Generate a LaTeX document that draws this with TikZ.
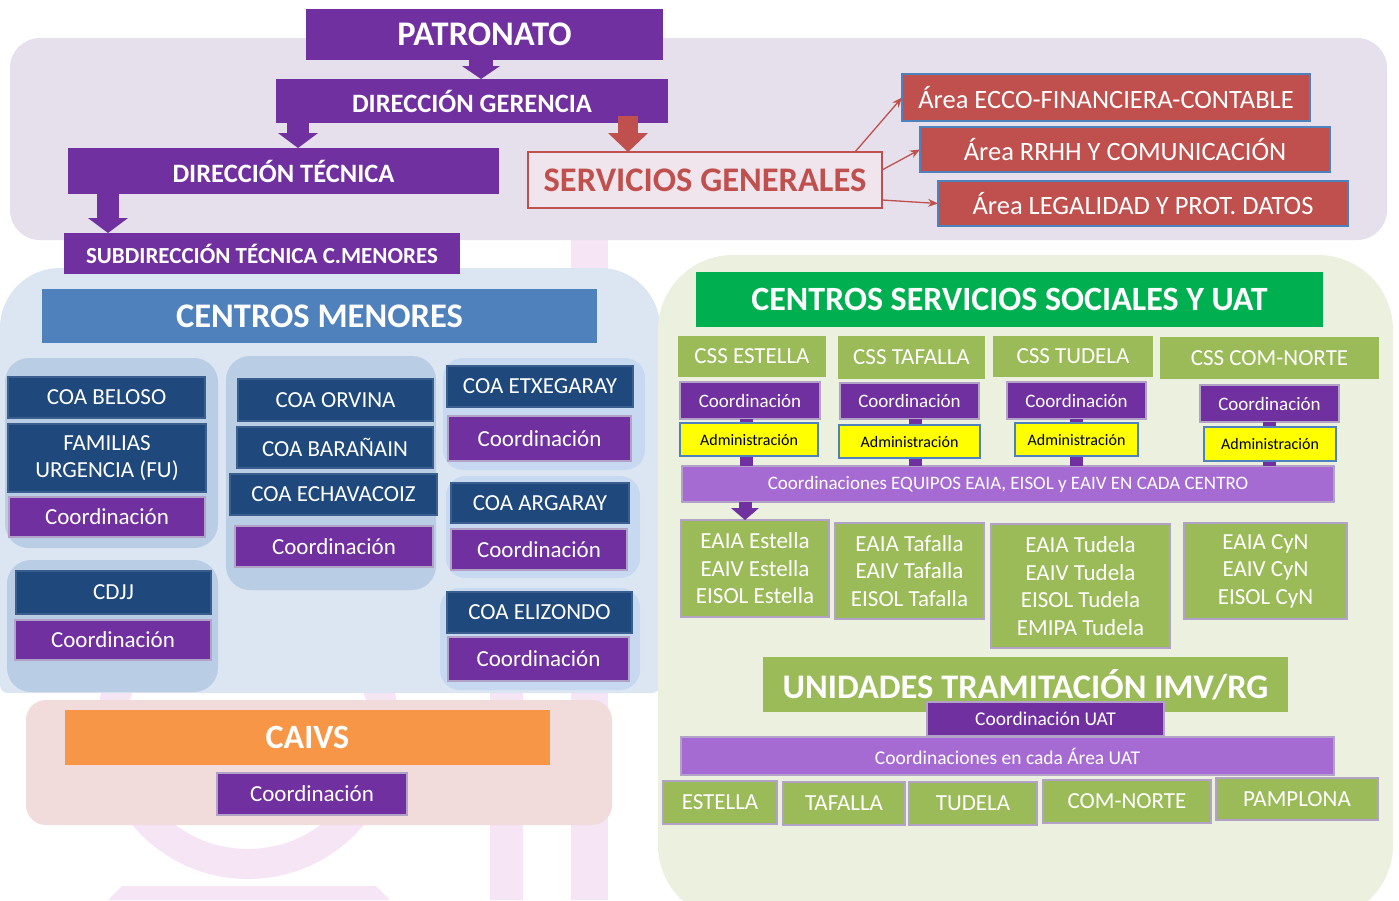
\documentclass[tikz,border=0pt]{standalone}
\usepackage{fontspec}
\setmainfont{Carlito}
\usetikzlibrary{arrows.meta}
\definecolor{cPurple}{HTML}{7030A0}
\definecolor{cLav}{HTML}{B3A2C7}
\definecolor{cTop}{HTML}{E5E0EC}
\definecolor{cRed}{HTML}{C0504D}
\definecolor{cSG}{HTML}{F0E5ED}
\definecolor{cAreaB}{HTML}{4F81BD}
\definecolor{cLBlue}{HTML}{DCE6F2}
\definecolor{cSub}{HTML}{B9CDE5}
\definecolor{cSubB}{HTML}{C6D9F1}
\definecolor{cMid}{HTML}{4F81BD}
\definecolor{cNavy}{HTML}{1F497D}
\definecolor{cNavyB}{HTML}{3A5F8F}
\definecolor{cPink}{HTML}{F2DCDB}
\definecolor{cOrange}{HTML}{F79646}
\definecolor{cLGreen}{HTML}{EBF1DE}
\definecolor{cGreen}{HTML}{00B050}
\definecolor{cOlive}{HTML}{9BBB59}
\definecolor{cLP}{HTML}{A66BD3}
\definecolor{cYellow}{HTML}{FFFF00}
\definecolor{cWM}{HTML}{F5E5F5}
\newcommand{\fsz}[2]{\fontsize{#1}{#2}\selectfont}
\newcommand{\bx}[7]{\node[#1,anchor=north west,minimum width={(#5-#3)*1pt},minimum height={(#6-#4)*1pt}] (#2) at (#3,#4) {#7};}
\tikzset{
 bx/.style={inner sep=0pt, outer sep=0pt, align=center, text=white, line width=1.2pt},
 tb/.style={bx, fill=cPurple, font=\bfseries\fsz{26.5}{30}},
 pu/.style={bx, fill=cPurple, draw=cLav, font=\fsz{23}{27}},
 nv/.style={bx, fill=cNavy, draw=cNavyB, font=\fsz{23}{27}},
 ar/.style={bx, fill=cRed, draw=cAreaB, font=\fsz{26.5}{30}},
 ol/.style={bx, fill=cOlive, font=\fsz{23}{27}},
 ola/.style={bx, fill=cOlive, draw=cLav, font=\fsz{23}{27.5}},
 ad/.style={bx, fill=cYellow, draw=cAreaB, text=black, font=\fsz{16}{19}},
 lp/.style={bx, fill=cLP, draw=cLav, font=\fsz{19}{22}},
 barrow/.style={line width=22pt, draw=cPurple, -{Triangle[width=40pt,length=15pt,line width=0pt]}},
 conn/.style={line width=13pt, draw=cPurple},
 thinred/.style={line width=1.3pt, draw=cRed, -{Stealth[length=10pt,width=8pt]}},
}
\begin{document}
\begin{tikzpicture}[x=1pt,y=-1pt]
\useasboundingbox[fill=white] (0,0) rectangle (1399,900);
% watermark
\fill[cWM] (490,600) rectangle (523,900);
\fill[cWM] (571,235) rectangle (608,900);
\draw[cWM, line width=30pt] (248,728) circle[radius=136pt];
\fill[cWM] (122,886) -- (376,886) -- (390,900) -- (108,900) -- cycle;
% panels
\fill[cTop, rounded corners=30pt] (10,38) rectangle (1387,240);
\fill[cLBlue] (330,693) [rounded corners=8pt] -- (0,693) [rounded corners=60pt] -- (0,268) -- (660,268) [rounded corners=8pt] -- (660,693) -- cycle;
\fill[cLGreen, rounded corners=75pt] (658,255) rectangle (1393,920);
\fill[cPink, rounded corners=20pt] (26,700) rectangle (612,825);
\fill[cSub, rounded corners=24pt] (5,358) rectangle (218,548);
\fill[cSub, rounded corners=24pt] (7,560) rectangle (218,692);
\fill[cSub, rounded corners=24pt] (226,356) rectangle (436,590);
\fill[cSubB, rounded corners=20pt] (443,358) rectangle (645,470);
\fill[cSubB, rounded corners=20pt] (446,476) rectangle (640,578);
\fill[cSubB, rounded corners=20pt] (440,588) rectangle (640,690);
% top hierarchy
\bx{tb,font=\bfseries\fsz{34.5}{38}}{pat}{306}{9}{663}{60}{PATRONATO}
\bx{tb}{dg}{276}{79}{668}{123}{DIRECCIÓN GERENCIA}
\bx{tb}{dt}{68}{148}{499}{194}{DIRECCIÓN TÉCNICA}
\bx{tb,font=\bfseries\fsz{23}{27}}{sub}{64}{233}{460}{274}{SUBDIRECCIÓN TÉCNICA C.MENORES}
\bx{bx,fill=cSG,draw=cRed,text=cRed,font=\bfseries\fsz{34.5}{38}}{sg}{528}{152}{882}{208}{SERVICIOS GENERALES}
\bx{ar}{a1}{902}{74}{1310}{121}{Área ECCO-FINANCIERA-CONTABLE}
\bx{ar}{a2}{920}{127}{1330}{172}{Área RRHH Y COMUNICACIÓN}
\bx{ar}{a3}{938}{181}{1348}{226}{Área LEGALIDAD Y PROT. DATOS}
\draw[barrow, line width=24pt, -{Triangle[width=38pt,length=13pt,line width=0pt]}] (481,0 |- pat.south) -- (481,0 |- dg.north);
\draw[barrow] (298,0 |- dg.south) -- (298,0 |- dt.north);
\draw[barrow] (108,0 |- dt.south) -- (108,0 |- sub.north);
\coordinate (rs) at (628,116);
\draw[line width=20pt, draw=cRed, -{Triangle[width=40pt,length=19pt,line width=0pt]}] (rs) -- (628,0 |- sg.north);
\draw[thinred] (855,0 |- sg.north) -- (a1.west);
\draw[thinred] (sg.east |- 0,170) -- (a2.west);
\draw[thinred] (sg.east |- 0,200) -- (a3.west);
% centros menores
\bx{bx,fill=cMid,font=\bfseries\fsz{34.5}{38}}{cm}{42}{289}{597}{343}{CENTROS MENORES}
\bx{nv}{beloso}{8}{377}{205}{418}{COA BELOSO}
\bx{nv}{fu}{8}{424}{206}{492}{FAMILIAS\\URGENCIA (FU)}
\bx{pu}{co1}{9}{497}{205}{537}{Coordinación}
\bx{nv}{cdjj}{16}{571}{211}{614}{CDJJ}
\bx{pu}{co2}{15}{620}{211}{660}{Coordinación}
\bx{nv}{orvina}{238}{379}{433}{421}{COA ORVINA}
\bx{nv}{baranain}{237}{427}{433}{468}{COA BARAÑAIN}
\bx{nv}{echa}{230}{474}{437}{515}{COA ECHAVACOIZ}
\bx{pu}{co3}{235}{526}{433}{567}{Coordinación}
\bx{nv}{etxe}{447}{366}{633}{407}{COA ETXEGARAY}
\bx{pu}{co4}{448}{416}{631}{461}{Coordinación}
\bx{nv}{argaray}{451}{483}{629}{523}{COA ARGARAY}
\bx{pu}{co5}{451}{529}{627}{570}{Coordinación}
\bx{nv}{elizondo}{447}{592}{632}{633}{COA ELIZONDO}
\bx{pu}{co6}{448}{637}{629}{681}{Coordinación}
% caivs
\bx{bx,fill=cOrange,font=\bfseries\fsz{34}{38}}{caivs}{65}{710}{550}{765}{CAIVS}
\bx{pu}{co7}{217}{773}{407}{815}{Coordinación}
% centros servicios sociales
\bx{bx,fill=cGreen,font=\bfseries\fsz{34}{38}}{cssu}{696}{272}{1323}{327}{CENTROS SERVICIOS SOCIALES Y UAT}
\bx{ol}{css1}{678}{336}{826}{377}{CSS ESTELLA}
\bx{ol}{css2}{838}{336}{985}{379}{CSS TAFALLA}
\bx{ol}{css3}{993}{336}{1153}{377}{CSS TUDELA}
\bx{ol}{css4}{1160}{337}{1379}{379}{CSS COM-NORTE}
\bx{pu,font=\fsz{19}{22}}{rc1}{680}{382}{820}{419}{Coordinación}
\bx{pu,font=\fsz{19}{22}}{rc2}{840}{383}{979}{419}{Coordinación}
\bx{pu,font=\fsz{19}{22}}{rc3}{1007}{382}{1146}{419}{Coordinación}
\bx{pu,font=\fsz{19}{22}}{rc4}{1200}{385}{1339}{422}{Coordinación}
\bx{lp}{bar1}{682}{466}{1334}{502}{Coordinaciones EQUIPOS EAIA, EISOL y EAIV EN CADA CENTRO}
\draw[conn] (746,0 |- rc1.south) -- (746,0 |- bar1.north);
\draw[conn] (915,0 |- rc2.south) -- (915,0 |- bar1.north);
\draw[conn] (1076,0 |- rc3.south) -- (1076,0 |- bar1.north);
\draw[conn] (1269,0 |- rc4.south) -- (1269,0 |- bar1.north);
\bx{ad}{ad1}{680}{423}{818}{456}{Administración}
\bx{ad}{ad2}{839}{425}{980}{458}{Administración}
\bx{ad}{ad3}{1015}{423}{1138}{456}{Administración}
\bx{ad}{ad4}{1204}{427}{1336}{461}{Administración}
\bx{ola}{eq1}{681}{520}{829}{617}{EAIA Estella\\EAIV Estella\\EISOL Estella}
\bx{ola}{eq2}{835}{523}{984}{619}{EAIA Tafalla\\EAIV Tafalla\\EISOL Tafalla}
\bx{ola}{eq3}{991}{524}{1170}{648}{EAIA Tudela\\EAIV Tudela\\EISOL Tudela\\EMIPA Tudela}
\bx{ola}{eq4}{1184}{523}{1347}{619}{EAIA CyN\\EAIV CyN\\EISOL CyN}
\draw[barrow, line width=13pt, -{Triangle[width=28pt,length=12pt,line width=0pt]}] (745,0 |- bar1.south) -- (745,0 |- eq1.north);
% UAT
\bx{ol,font=\bfseries\fsz{34.5}{38}}{uni}{763}{657}{1288}{712}{UNIDADES TRAMITACIÓN IMV/RG}
\bx{pu,font=\fsz{19.5}{23}}{cuat}{927}{702}{1164}{736}{Coordinación UAT}
\bx{lp,font=\fsz{19.5}{23}}{bar2}{681}{737}{1334}{775}{Coordinaciones en cada Área UAT}
\bx{ola}{u1}{663}{781}{777}{824}{ESTELLA}
\bx{ola}{u2}{783}{782}{905}{825}{TAFALLA}
\bx{ola}{u3}{909}{782}{1037}{825}{TUDELA}
\bx{ola}{u4}{1043}{780}{1211}{823}{COM-NORTE}
\bx{ola}{u5}{1216}{778}{1378}{820}{PAMPLONA}
\end{tikzpicture}
\end{document}
